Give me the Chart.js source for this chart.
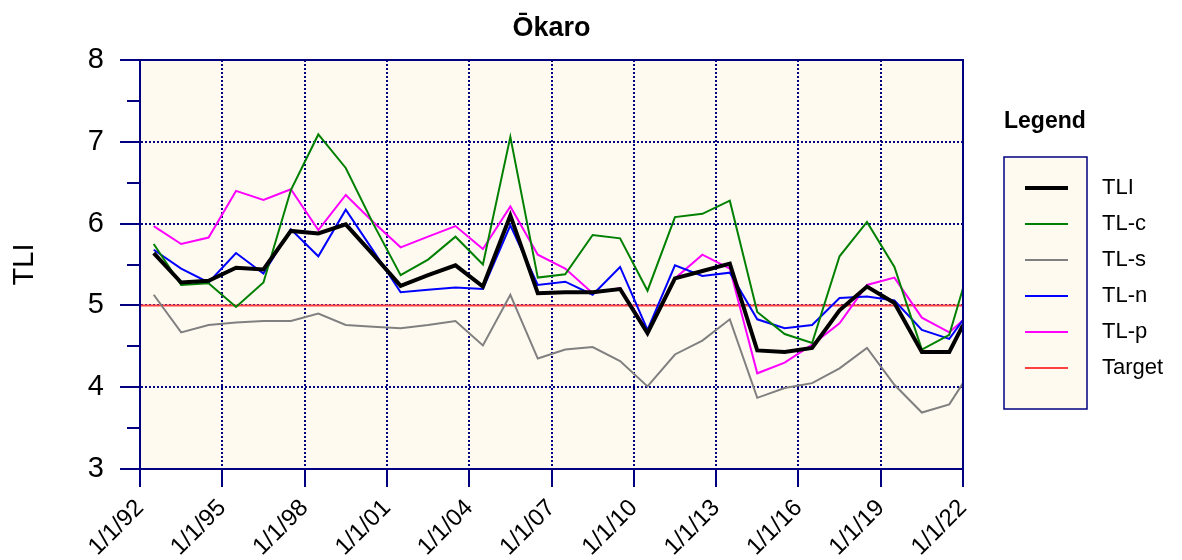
<!DOCTYPE html>
<html>
<head>
<meta charset="utf-8">
<script src="https://cdn.jsdelivr.net/npm/chart.js@4.4.0/dist/chart.umd.min.js"></script>
<style>
  html, body { margin: 0; padding: 0; background: #ffffff; }
  #wrap { width: 1182px; height: 560px; }
</style>
</head>
<body>
<div id="wrap"><canvas id="tliChart" width="1182" height="560"></canvas></div>
<script>
const titulo = "Ōkaro";
const xMin = 1992;
const xMax = 2022;
const xStep = 3;
const yMin = 3;
const yMax = 8;
const targetValue = 5;

// sampling dates (decimal years), last one sits on the right edge of the plot
const sampleYears = [
  1992.5, 1993.5, 1994.5, 1995.5, 1996.5, 1997.5, 1998.5, 1999.5, 2000.5, 2001.5,
  2002.5, 2003.5, 2004.5, 2005.5, 2006.5, 2007.5, 2008.5, 2009.5, 2010.5, 2011.5,
  2012.5, 2013.5, 2014.5, 2015.5, 2016.5, 2017.5, 2018.5, 2019.5, 2020.5, 2021.5,
  2022.0
];

const tli = [5.64, 5.28, 5.30, 5.46, 5.44, 5.91, 5.88, 5.99, 5.62, 5.24,
  5.37, 5.49, 5.23, 6.10, 5.15, 5.16, 5.16, 5.20, 4.66, 5.33,
  5.42, 5.51, 4.45, 4.43, 4.48, 4.94, 5.23, 5.03, 4.43, 4.43,
  4.76];
const tlc = [5.75, 5.25, 5.27, 4.98, 5.28, 6.41, 7.09, 6.68, 6.00, 5.37,
  5.56, 5.84, 5.50, 7.06, 5.34, 5.38, 5.86, 5.82, 5.18, 6.08,
  6.12, 6.28, 4.92, 4.65, 4.54, 5.60, 6.02, 5.47, 4.46, 4.64,
  5.21];
const tls = [5.13, 4.67, 4.76, 4.79, 4.81, 4.81, 4.90, 4.76, 4.74, 4.72,
  4.76, 4.81, 4.51, 5.13, 4.35, 4.46, 4.49, 4.32, 4.01, 4.40,
  4.57, 4.83, 3.87, 3.99, 4.05, 4.23, 4.48, 4.03, 3.69, 3.79,
  4.05];
const tln = [5.68, 5.45, 5.28, 5.64, 5.39, 5.93, 5.60, 6.17, 5.67, 5.16,
  5.19, 5.22, 5.20, 5.98, 5.25, 5.29, 5.13, 5.47, 4.70, 5.49,
  5.36, 5.40, 4.83, 4.72, 4.76, 5.09, 5.11, 5.06, 4.70, 4.59,
  4.82];
const tlp = [5.97, 5.75, 5.83, 6.40, 6.29, 6.42, 5.92, 6.35, 6.02, 5.71,
  5.84, 5.97, 5.69, 6.21, 5.62, 5.45, 5.15, 5.21, 4.69, 5.33,
  5.62, 5.45, 4.17, 4.30, 4.52, 4.78, 5.25, 5.34, 4.85, 4.67,
  4.82];

const NAVY = "#000080";
const CREMA = "#fffaf0";
const FUENTE = "'Liberation Sans', Arial, sans-serif";

const toPoints = vals => vals.map((v, i) => ({ x: sampleYears[i], y: v }));

function serie(label, vals, color, width) {
  return {
    label: label,
    data: toPoints(vals),
    borderColor: color,
    backgroundColor: color,
    borderWidth: width,
    pointRadius: 0,
    tension: 0,
    fill: false
  };
}

const datasets = [
  serie("TLI", tli, "#000000", 4),
  serie("TL-c", tlc, "#008000", 2),
  serie("TL-s", tls, "#808080", 2),
  serie("TL-n", tln, "#0000ff", 2),
  serie("TL-p", tlp, "#ff00ff", 2),
  {
    label: "Target",
    data: [{ x: xMin, y: targetValue }, { x: xMax, y: targetValue }],
    borderColor: "#ff4040",
    borderWidth: 2,
    pointRadius: 0,
    tension: 0
  }
];

// fondo crema y marco del area del grafico
const fondoPlugin = {
  id: "fondo",
  beforeDraw(chart) {
    const { ctx, chartArea: a } = chart;
    ctx.save();
    ctx.fillStyle = CREMA;
    ctx.fillRect(a.left, a.top, a.right - a.left, a.bottom - a.top);
    ctx.restore();
  },
  afterDraw(chart) {
    const { ctx, chartArea: a, scales } = chart;
    ctx.save();
    ctx.strokeStyle = NAVY;
    ctx.lineWidth = 2;
    ctx.strokeRect(a.left, a.top, a.right - a.left, a.bottom - a.top);

    // ticks menores del eje y
    const y = scales.y;
    for (let v = yMin + 0.5; v < yMax; v += 1) {
      const py = Math.round(y.getPixelForValue(v));
      ctx.beginPath();
      ctx.moveTo(a.left - 13, py);
      ctx.lineTo(a.left, py);
      ctx.stroke();
    }

    // titulo
    ctx.fillStyle = "#000";
    ctx.font = "bold 27px " + FUENTE;
    ctx.textAlign = "center";
    ctx.textBaseline = "middle";
    ctx.fillText(titulo, (a.left + a.right) / 2, 29);
    ctx.restore();
  }
};

// leyenda a la derecha, con caja y etiquetas fuera de la caja
const leyendaPlugin = {
  id: "leyenda",
  afterDraw(chart) {
    const { ctx } = chart;
    ctx.save();
    ctx.fillStyle = "#000";
    ctx.font = "bold 23px " + FUENTE;
    ctx.textAlign = "left";
    ctx.textBaseline = "middle";
    ctx.fillText("Legend", 1004, 122);

    ctx.fillStyle = CREMA;
    ctx.fillRect(1004, 157, 83, 252);
    ctx.strokeStyle = NAVY;
    ctx.lineWidth = 1.5;
    ctx.strokeRect(1004, 157, 83, 252);

    ctx.font = "22px " + FUENTE;
    chart.data.datasets.forEach((ds, i) => {
      const yy = 188 + i * 36;
      ctx.strokeStyle = ds.borderColor;
      ctx.lineWidth = ds.borderWidth;
      ctx.beginPath();
      ctx.moveTo(1025, yy);
      ctx.lineTo(1068, yy);
      ctx.stroke();
      ctx.fillStyle = "#000";
      ctx.fillText(ds.label, 1102, yy);
    });
    ctx.restore();
  }
};

new Chart(document.getElementById("tliChart"), {
  type: "line",
  data: { datasets: datasets },
  options: {
    responsive: false,
    devicePixelRatio: 1,
    animation: false,
    layout: { padding: { top: 60, right: 219, bottom: 0, left: 0 } },
    plugins: {
      legend: { display: false },
      title: { display: false },
      tooltip: { enabled: false }
    },
    scales: {
      x: {
        type: "linear",
        min: xMin,
        max: xMax,
        afterFit: s => { s.height = 91; },
        ticks: {
          stepSize: xStep,
          autoSkip: false,
          minRotation: 45,
          maxRotation: 45,
          padding: 7,
          color: "#000",
          font: { family: FUENTE, size: 24 },
          callback: v => "1/1/" + String(v).slice(2)
        },
        grid: {
          color: NAVY,
          lineWidth: 2,
          tickLength: 18,
          tickColor: NAVY,
          tickWidth: 2,
          tickBorderDash: []
        },
        border: { display: true, color: NAVY, width: 2, dash: [2, 2] }
      },
      y: {
        min: yMin,
        max: yMax,
        afterFit: s => { s.width = 140; },
        ticks: {
          stepSize: 1,
          padding: 16,
          color: "#000",
          font: { family: FUENTE, size: 29 }
        },
        grid: {
          color: NAVY,
          lineWidth: 2,
          tickLength: 20,
          tickColor: NAVY,
          tickWidth: 2,
          tickBorderDash: []
        },
        border: { display: true, color: NAVY, width: 2, dash: [2, 2] },
        title: {
          display: true,
          text: "TLI",
          color: "#000",
          font: { family: FUENTE, size: 29 },
          padding: { top: 8, bottom: 4 }
        }
      }
    }
  },
  plugins: [fondoPlugin, leyendaPlugin]
});
</script>
</body>
</html>
